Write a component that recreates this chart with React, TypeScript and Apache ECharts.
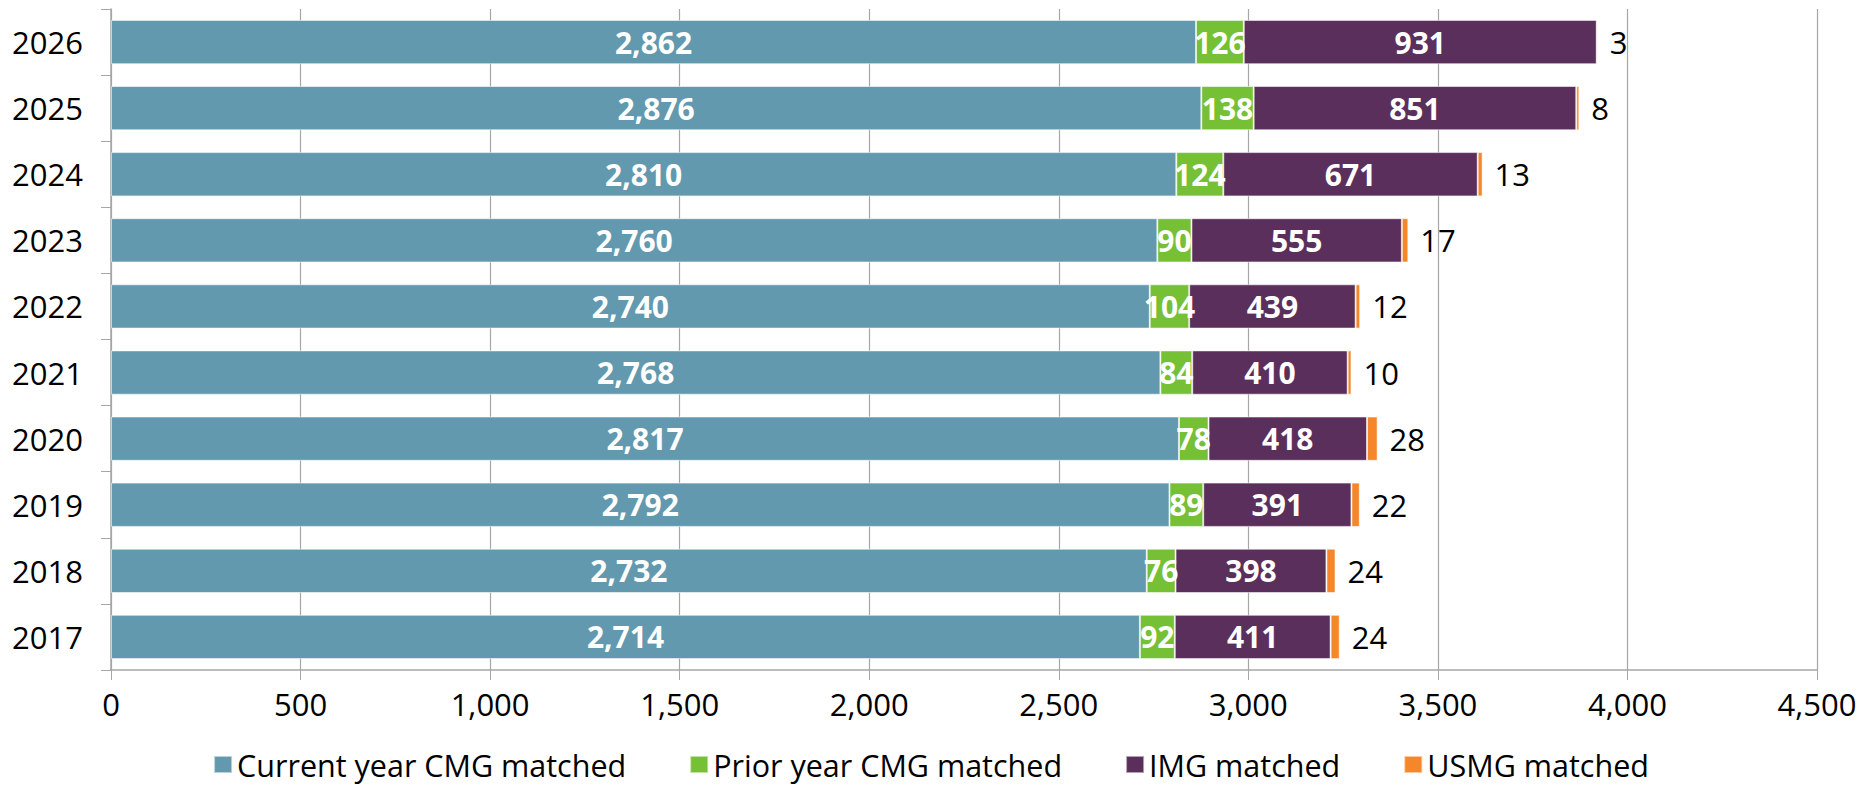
import React, { useEffect, useRef } from "react";
import * as echarts from "echarts";

const years = ["2017", "2018", "2019", "2020", "2021", "2022", "2023", "2024", "2025", "2026"];
const currentCMG = [2714, 2732, 2792, 2817, 2768, 2740, 2760, 2810, 2876, 2862];
const priorCMG = [92, 76, 89, 78, 84, 104, 90, 124, 138, 126];
const imgMatched = [411, 398, 391, 418, 410, 439, 555, 671, 851, 931];
const usmgMatched = [24, 24, 22, 28, 10, 12, 17, 13, 8, 3];
const seriesNames = ["Current year CMG matched", "Prior year CMG matched", "IMG matched", "USMG matched"];
const colors = ["#6399ae", "#75c035", "#5b2f5b", "#f5862a"];

const FONT = "'Open Sans', 'Noto Sans', sans-serif";

export default function App() {
  const ref = useRef<HTMLDivElement>(null);
  useEffect(() => {
    if (!ref.current) return;
    const chart = echarts.init(ref.current, null, { renderer: "svg" });
    const fmt = (v: number) => v.toLocaleString("en-US");
    const datas = [currentCMG, priorCMG, imgMatched, usmgMatched];
    const series = datas.map((d, i) => ({
      name: seriesNames[i],
      type: "bar",
      stack: "total",
      data: d,
      barCategoryGap: "33%",
      itemStyle: { color: colors[i], borderColor: "rgba(255,255,255,0.55)", borderWidth: 1 },
      label:
        i === 3
          ? {
              show: true,
              position: "right",
              distance: 12,
              color: "#000",
              fontFamily: FONT,
              fontSize: 31,
              formatter: (p: any) => fmt(p.value),
            }
          : {
              show: true,
              position: "inside",
              color: "#fff",
              fontWeight: "bold",
              fontFamily: FONT,
              fontSize: 30,
              formatter: (p: any) => fmt(p.value),
            },
    }));
    chart.setOption({
      animation: false,
      textStyle: { fontFamily: FONT },
      grid: { left: 111, right: 45, top: 9, bottom: 115, containLabel: false },
      legend: {
        bottom: 0,
        left: "center",
        itemWidth: 18,
        itemHeight: 17,
        itemGap: 63,
        icon: "rect",
        textStyle: { fontFamily: FONT, fontSize: 30.5, color: "#000" },
        data: seriesNames,
      },
      xAxis: {
        type: "value",
        min: 0,
        max: 4500,
        interval: 500,
        axisLine: { show: true, lineStyle: { color: "#a6a6a6", width: 1.5 } },
        axisTick: { show: true, length: 10, lineStyle: { color: "#a6a6a6" } },
        splitLine: { show: true, lineStyle: { color: "#a6a6a6", width: 1.2 } },
        axisLabel: {
          color: "#000",
          fontSize: 31,
          fontFamily: FONT,
          margin: 18,
          formatter: (v: number) => fmt(v),
        },
      },
      yAxis: {
        type: "category",
        data: years,
        axisLine: { show: true, lineStyle: { color: "#a6a6a6", width: 1.5 } },
        axisTick: { show: true, length: 10, lineStyle: { color: "#a6a6a6" } },
        axisLabel: { color: "#000", fontSize: 31, fontFamily: FONT, margin: 28 },
      },
      series,
    });
    return () => chart.dispose();
  }, []);
  return (
    <div
      ref={ref}
      style={{ position: "fixed", left: 0, top: 0, width: 1862, height: 785, background: "#fff" }}
    />
  );
}
